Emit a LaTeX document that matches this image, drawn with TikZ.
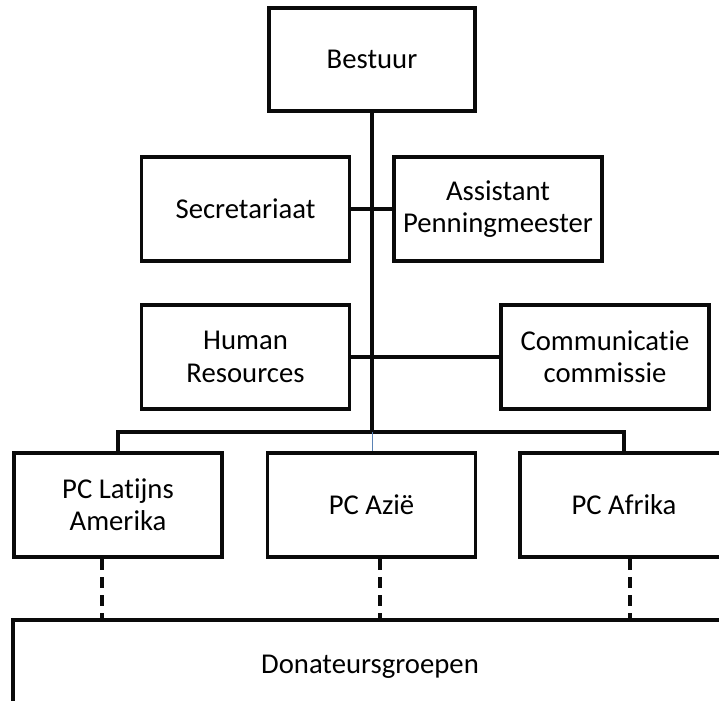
\documentclass[tikz,border=0pt]{standalone}
\usepackage{fontspec}
\setmainfont{Carlito}[Ligatures=NoCommon]
\usepackage{xcolor}
\definecolor{linkblue}{RGB}{90, 130, 180}
\definecolor{boxblack}{RGB}{10, 10, 10}

\begin{document}
\begin{tikzpicture}[
    x=0.03cm, y=-0.03cm,
    unit/.style={rectangle, draw=boxblack, line width=2.9pt, fill=white, minimum width=6.25cm, minimum height=3.13cm, inner sep=0pt, align=center, font=\fontsize{24.5}{27.5}\selectfont},
    link/.style={line width=2.6pt, draw=boxblack},
    trunk/.style={line width=3.8pt, draw=boxblack},
    fine/.style={line width=0.85pt, draw=linkblue},
    dashlink/.style={line width=2.6pt, draw=boxblack, dash pattern=on 9.5pt off 6pt}
]

\path[use as bounding box, clip] (0,0) rectangle (719,701);

% Board
\node (bestuur) [unit, minimum width=6.18cm, minimum height=3.09cm] at (372,59.5) {Bestuur};

% Staff
\node (secretariaat) [unit] at (245.5,209) {Secretariaat};
\node (assistent) [unit] at (498,209) {Assistant\\Penningmeester};
\node (hr) [unit] at (245.5,357) {Human\\Resources};
\node (communicatie) [unit] at (605,357) {Communicatie\\commissie};

% Project committees
\node (latijns) [unit] at (118,505) {PC Latijns\\Amerika};
\node (azie) [unit] at (371.5,505) {PC Azië};
\node (afrika) [unit] at (624,505) {PC Afrika};

% Donors
\node (donateurs) [unit, minimum width=21.42cm, minimum height=2.82cm] at (370,667) {Donateursgroepen};

% Connectors
\coordinate (hub) at (372,432);
\draw [link] (secretariaat) -- (assistent);
\draw [link] (hr) -- (communicatie);
\draw [link] (latijns.north) |- (hub) -| (afrika.north);
\draw [fine] (hub) -- (hub |- azie.north);
\draw [trunk] (bestuur) -- (hub);

% Dashed links to donors
\draw [dashlink] (latijns.south) ++(-16,0) coordinate (d1) -- (d1 |- donateurs.north);
\draw [dashlink] (azie.south) ++(8.5,0) coordinate (d2) -- (d2 |- donateurs.north);
\draw [dashlink] (afrika.south) ++(6,0) coordinate (d3) -- (d3 |- donateurs.north);

\end{tikzpicture}
\end{document}
